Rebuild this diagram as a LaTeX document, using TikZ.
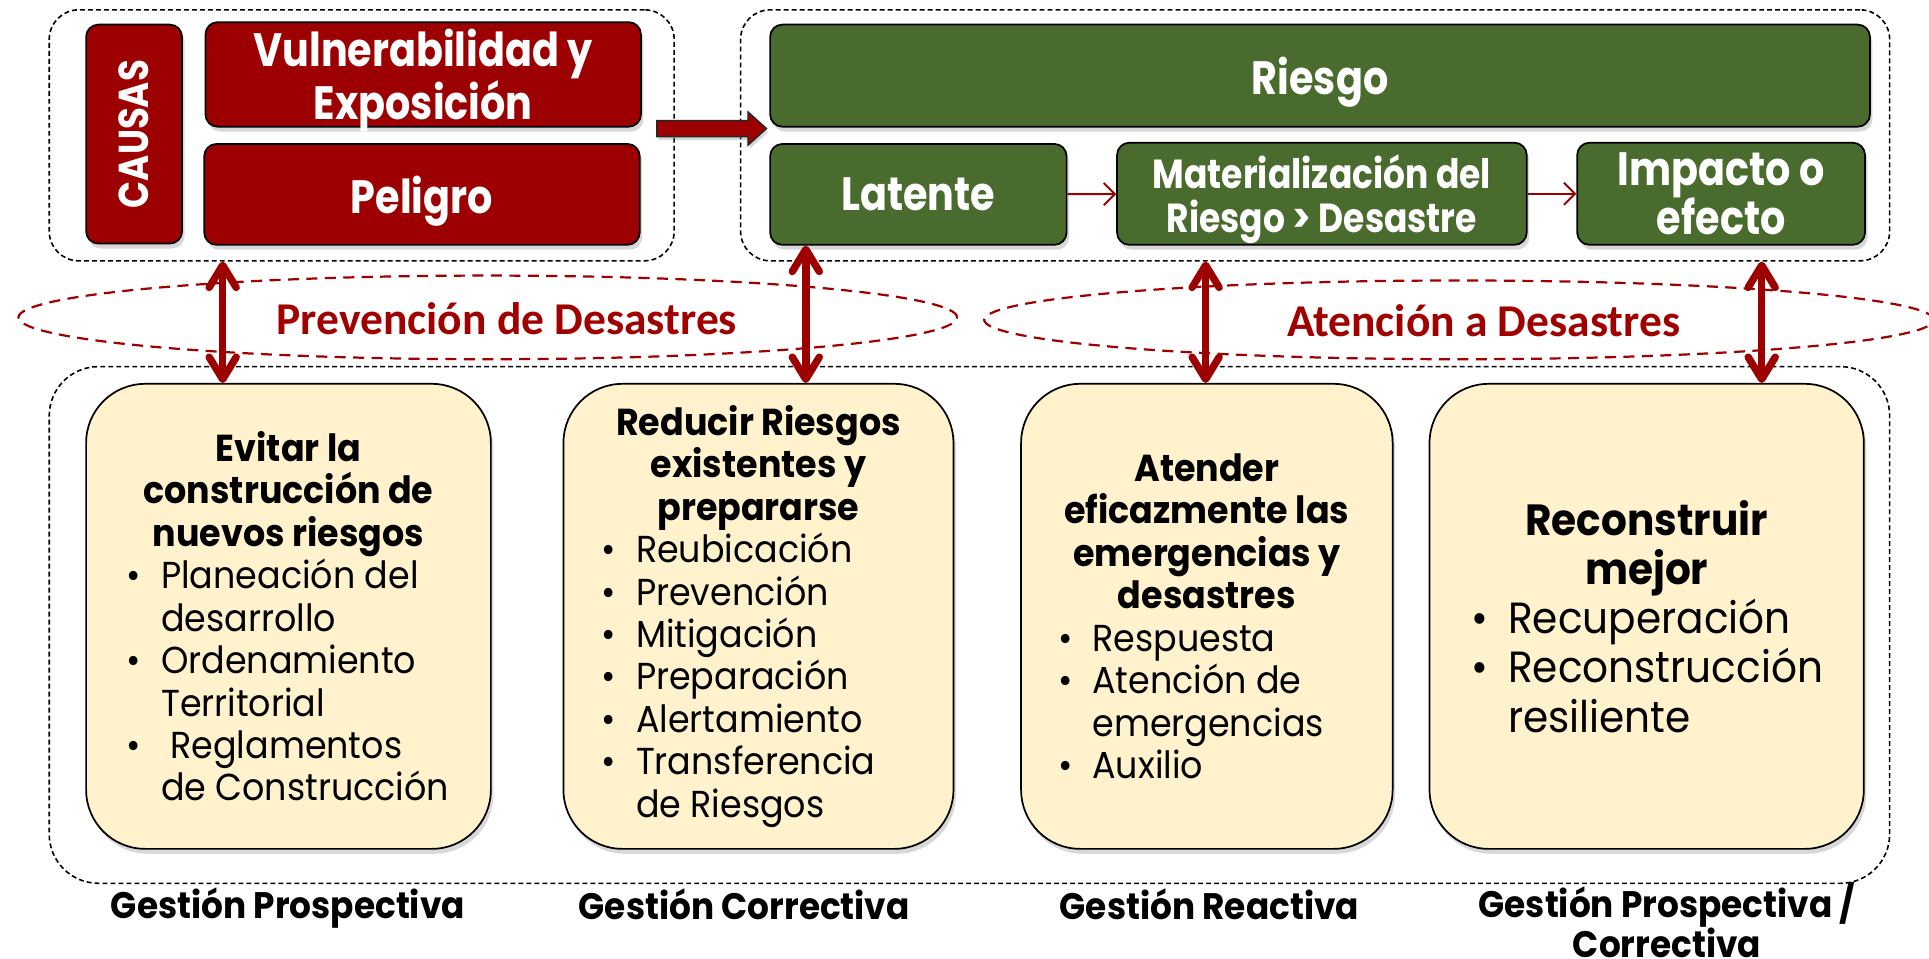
\documentclass[tikz,border=0pt]{standalone}
\usepackage{fontspec}
\setmainfont[FakeStretch=0.85]{Poppins}
\newfontfamily\bodyf[FakeStretch=0.93]{Poppins}
\newfontfamily\carl{Carlito}
\usetikzlibrary{arrows.meta,shadows,shapes.geometric,calc}
\definecolor{cred}{HTML}{9C0000}
\definecolor{cgreen}{HTML}{4A6B2E}
\definecolor{ccream}{HTML}{FFF2CC}
\definecolor{ered}{HTML}{A00000}
\newcommand\bul[2][28pt]{\noindent\hangindent=#1\hangafter=1\makebox[#1][l]{\textbullet}#2\par}
\begin{document}
\begin{tikzpicture}[x=1pt,y=-1pt,
  shad/.style={drop shadow={opacity=0.3,shadow xshift=2pt,shadow yshift=-4pt}},
  dbox/.style={draw=black, dashed, dash pattern=on 4pt off 2.5pt, line width=1.3pt, inner sep=0pt},
  topbox/.style={draw=black, line width=1.4pt, rounded corners=10pt, text=white, align=center, inner sep=0pt, shad,
    text depth=0pt, font=\bfseries\fontsize{38}{39}\selectfont},
  redbox/.style={topbox, fill=cred},
  greenbox/.style={topbox, fill=cgreen},
  cbox/.style={draw=black, line width=1.4pt, fill=ccream, rounded corners=48pt, inner sep=0pt, shad,
    minimum height=378, font=\bodyf\fontsize{30.5}{34.5}\selectfont},
  thinarr/.style={draw=cred, line width=1.6pt, -{Straight Barb[length=9pt,width=18pt]}},
  dar/.style={draw=cred, line width=6pt, {Straight Barb[round,length=18pt,width=22pt]}-{Straight Barb[round,length=18pt,width=22pt]}},
  ell/.style={ellipse, draw=ered, line width=1.8pt, dash pattern=on 9pt off 6pt, inner sep=0pt},
  elltext/.style={text=ered, font=\carl\bfseries\fontsize{37}{40}\selectfont},
  glabel/.style={align=center, font=\bodyf\bfseries\fontsize{30}{33}\selectfont}
]
\useasboundingbox[fill=white] (0,0) rectangle (1568,779);

% dashed containers
\node[dbox, rounded corners=24pt, minimum width=508, minimum height=204] (topL) at (294,110) {};
\node[dbox, rounded corners=24pt, minimum width=934, minimum height=204] (topR) at (1069,110) {};
\node[dbox, rounded corners=40pt, minimum width=1496, minimum height=420] (bot) at (788,508) {};

% causes
\node[redbox, rotate=90, minimum width=178, minimum height=78, font=\bfseries\fontsize{34}{36}\selectfont] (causas) at (109,109) {CAUSAS};
\node[redbox, minimum width=354, minimum height=85] (vul) at (344,60.5) {Vulnerabilidad y\\Exposición};
\node[redbox, minimum width=354, minimum height=82] (pel) at (343,158) {Peligro};

% risk
\node[greenbox, minimum width=894, minimum height=83] (riesgo) at (1073,61.5) {Riesgo};
\node[greenbox, minimum width=241, minimum height=82] (lat) at (746.5,158) {Latente};
\node[greenbox, minimum width=333, minimum height=83, font=\bfseries\fontsize{33}{36}\selectfont] (mat) at (1074.5,157.5) {Materialización del\\Riesgo > Desastre};
\node[greenbox, minimum width=234, minimum height=83, font=\bfseries\fontsize{38}{40}\selectfont] (imp) at (1399,157.5) {Impacto o\\efecto};

\draw[thinarr] (lat) -- (mat);
\draw[thinarr] (mat) -- (imp);

% big block arrow
\coordinate (bs) at (534,104.5);
\coordinate (bt) at (623,104.5);
\draw[fill=cred, line width=1.2pt, draw=black!85, drop shadow={opacity=0.3,shadow xshift=1.5pt,shadow yshift=-3pt}]
  ($(bs)+(0,-6.5)$) -- ($(bt)+(-15,-6.5)$) -- ($(bt)+(-15,-13.5)$) -- (bt) -- ($(bt)+(-15,13.5)$) -- ($(bt)+(-15,6.5)$) -- ($(bs)+(0,6.5)$) -- cycle;

% ellipses
\node[ell, minimum width=763, minimum height=68] (e1) at (396.5,258) {};
\node[elltext] (t1) at (412,259) {Prevención de Desastres};
\node[ell, minimum width=772, minimum height=64] (e2) at (1186,260) {};
\node[elltext] (t2) at (1206,261) {Atención a Desastres};

% bottom boxes
\node[cbox, minimum width=329] (b1) at (234.5,501) {\parbox{263pt}{\centering\bfseries Evitar la\\construcción de\\nuevos riesgos\par\raggedright\mdseries
\bul{Planeación del\break desarrollo}
\bul{Ordenamiento\break Territorial}
\bul{\ Reglamentos\break de Construcción}}};
\node[cbox, minimum width=317] (b2) at (616.5,501) {\parbox{255pt}{\centering\bfseries Reducir Riesgos\\existentes y\\prepararse\par\raggedright\mdseries
\bul{Reubicación}
\bul{Prevención}
\bul{Mitigación}
\bul{Preparación}
\bul{Alertamiento}
\bul{Transferencia\break de Riesgos}}};
\node[cbox, minimum width=302] (b3) at (981,501) {\parbox{242pt}{\centering\bfseries Atender\\eficazmente las\\emergencias y\\desastres\par\raggedright\mdseries
\bul{Respuesta}
\bul{Atención de\break emergencias}
\bul{Auxilio}}};
\node[cbox, minimum width=353, font=\bodyf\fontsize{35.5}{40}\selectfont] (b4) at (1338.5,501) {\parbox{285pt}{\centering\bfseries Reconstruir\\mejor\par\raggedright\mdseries
\bul[30pt]{Recuperación}
\bul[30pt]{Reconstrucción\break resiliente}}};

% double arrows
\coordinate (x1) at (181,0);
\coordinate (x2) at (655,0);
\coordinate (x3) at (980,0);
\coordinate (x4) at (1432,0);
\draw[dar] (topL.south -| x1) -- (b1.north -| x1);
\draw[dar] (lat.south -| x2) -- (b2.north -| x2);
\draw[dar] (topR.south -| x3) -- (b3.north -| x3);
\draw[dar] (topR.south -| x4) -- (b4.north -| x4);

% labels
\node[glabel] (g1) at (234,738) {Gestión Prospectiva};
\node[glabel] (g2) at (605,735) {Gestión Correctiva};
\node[glabel] (g3) at (983,735) {Gestión Reactiva};
\node[glabel] (g4) at (1355,748) {Gestión Prospectiva /\\Correctiva};
\end{tikzpicture}
\end{document}
